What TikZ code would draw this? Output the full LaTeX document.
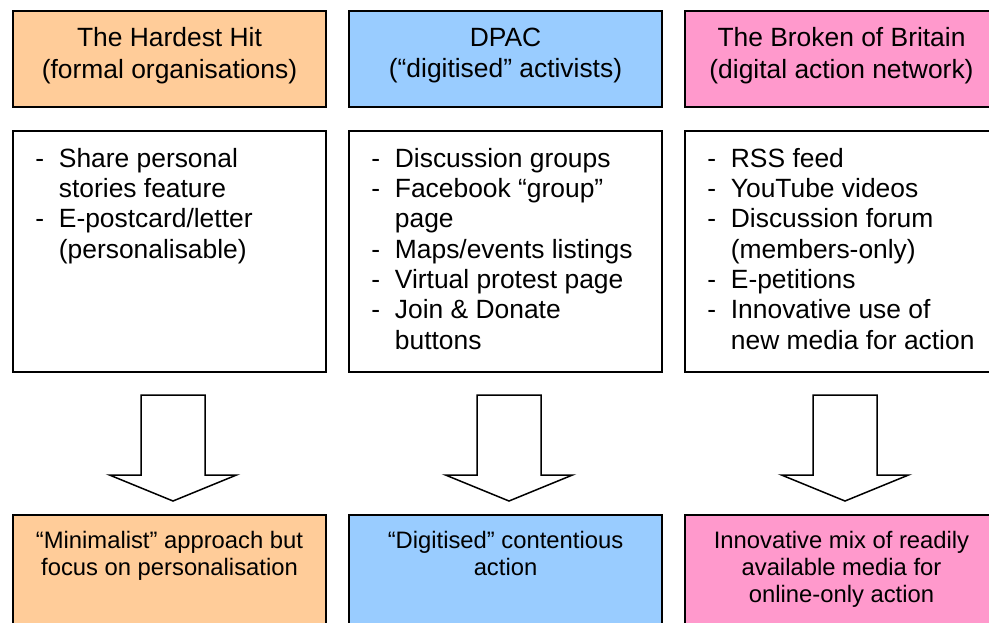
\documentclass[tikz,border=0pt]{standalone}
\usepackage{fontspec}
\setmainfont{Liberation Sans}
\usetikzlibrary{positioning,calc}
\definecolor{hitfill}{HTML}{FFCC99}
\definecolor{dpacfill}{HTML}{99CCFF}
\definecolor{bobfill}{HTML}{FF99CC}
\newcommand{\itm}[1]{\makebox[11.75pt][l]{-}#1}
\newcommand{\cnt}[1]{\hspace*{11.75pt}#1}
\tikzset{
    box/.style={draw, line width=0.75pt, minimum width=156.5pt, inner sep=0pt, outer sep=0pt},
    headbox/.style={box, minimum height=48pt},
    listbox/.style={box, fill=white, minimum height=120.5pt},
    outbox/.style={box, minimum height=62.5pt},
    headtext/.style={align=center, inner sep=0pt, font=\fontsize{13.2}{15.8}\selectfont},
    listtext/.style={align=left, inner sep=0pt, font=\fontsize{13.2}{15.15}\selectfont},
    outtext/.style={align=center, inner sep=0pt, font=\fontsize{11.9}{13.5}\selectfont},
    blockarrow/.style={draw, fill=white, line width=0.75pt, line join=miter}
}
\begin{document}
\begin{tikzpicture}[x=0.5pt, y=-0.5pt]
        \useasboundingbox (0,0) rectangle (989,622);
        \clip (0,0) rectangle (989,622);
        \node[headbox, fill=hitfill] (hitHead) at (169.5,59) {};
        \node[headbox, fill=dpacfill] (dpacHead) at (505.5,59) {};
        \node[headbox, fill=bobfill] (bobHead) at (841.5,59) {};
        \node[headtext, below=8.1pt of hitHead.north] (hitName) {The Hardest Hit\\(formal organisations)};
        \node[headtext, below=8.1pt of dpacHead.north] (dpacName) {DPAC\\(“digitised” activists)};
        \node[headtext, below=8.1pt of bobHead.north] (bobName) {The Broken of Britain\\(digital action network)};
        \node[listbox] (hitList) at (169.5,251.5) {};
        \node[listbox] (dpacList) at (505.5,251.5) {};
        \node[listbox] (bobList) at (841.5,251.5) {};
        \node[listtext, below right=8.4pt and 11pt of hitList.north west] (hitItems)
            {\itm{Share personal}\\\cnt{stories feature}\\\itm{E-postcard/letter}\\\cnt{(personalisable)}};
        \node[listtext, below right=8.4pt and 11pt of dpacList.north west] (dpacItems)
            {\itm{Discussion groups}\\\itm{Facebook “group”}\\\cnt{page}\\\itm{Maps/events listings}\\\itm{Virtual protest page}\\\itm{Join \& Donate}\\\cnt{buttons}};
        \node[listtext, below right=8.4pt and 11pt of bobList.north west] (bobItems)
            {\itm{RSS feed}\\\itm{YouTube videos}\\\itm{Discussion forum}\\\cnt{(members-only)}\\\itm{E-petitions}\\\itm{Innovative use of}\\\cnt{new media for action}};
        \node[outbox, fill=hitfill] (hitOut) at (169.5,577.5) {};
        \node[outbox, fill=dpacfill] (dpacOut) at (505.5,577.5) {};
        \node[outbox, fill=bobfill] (bobOut) at (841.5,577.5) {};
        \node[outtext, below=7.9pt of hitOut.north] (hitResult) {“Minimalist” approach but\\focus on personalisation};
        \node[outtext, below=7.9pt of dpacOut.north] (dpacResult) {“Digitised” contentious\\action};
        \node[outtext, below=7.9pt of bobOut.north] (bobResult) {Innovative mix of readily\\available media for\\online-only action};
        \draw[blockarrow] ($(hitList.south)+(-28.5,23)$) -- ++(0,80) -- ++(-31.5,0) -- ++(63.5,26) -- ++(63.5,-26) -- ++(-31.5,0) -- ++(0,-80) -- cycle;
        \draw[blockarrow] ($(dpacList.south)+(-28.5,23)$) -- ++(0,80) -- ++(-31.5,0) -- ++(63.5,26) -- ++(63.5,-26) -- ++(-31.5,0) -- ++(0,-80) -- cycle;
        \draw[blockarrow] ($(bobList.south)+(-28.5,23)$) -- ++(0,80) -- ++(-31.5,0) -- ++(63.5,26) -- ++(63.5,-26) -- ++(-31.5,0) -- ++(0,-80) -- cycle;
\end{tikzpicture}
\end{document}
